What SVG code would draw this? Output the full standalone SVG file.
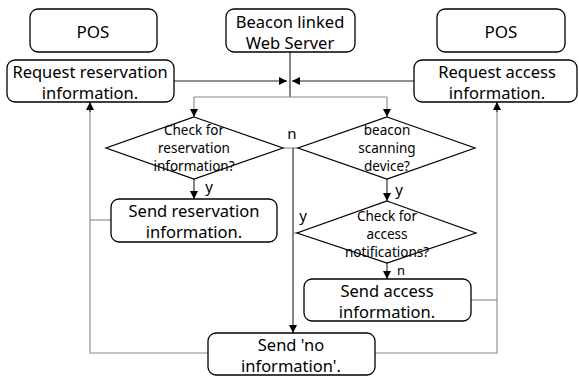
<svg xmlns="http://www.w3.org/2000/svg" width="579" height="376" viewBox="0 0 579 376">
<style>
.box{fill:#fff;stroke:#000;stroke-width:1.3}
.dia{fill:#fff;stroke:#000;stroke-width:1.2}
.t{font-family:"Noto Sans","Open Sans",sans-serif;font-size:16.5px;fill:#000;text-anchor:middle;dominant-baseline:central}
.s{font-family:"Noto Sans","Open Sans",sans-serif;font-size:13.5px;fill:#000;text-anchor:middle;dominant-baseline:central}
.lb{font-family:"Noto Sans","Open Sans",sans-serif;font-size:15px;fill:#000;text-anchor:middle;dominant-baseline:central}
.l{fill:none;stroke:#222;stroke-width:1.1}
.g{fill:none;stroke:#888;stroke-width:1.1}
</style>
<defs>
<marker id="ah" viewBox="0 0 10 10" refX="10" refY="5" markerWidth="8" markerHeight="8" markerUnits="userSpaceOnUse" orient="auto"><path d="M0,0 L10,5 L0,10 z" fill="#000"/></marker>
</defs>
<g id="connectors">
<path class="l" d="M174,81 H287" marker-end="url(#ah)"/>
<path class="l" d="M414,81 H292" marker-end="url(#ah)"/>
<path class="l" d="M290,52 V97"/>
<path class="g" d="M194,97 H387"/>
<path class="g" d="M194,97 V117" marker-end="url(#ah)"/>
<path class="g" d="M387,97 V117" marker-end="url(#ah)"/>
<path class="l" d="M194,179 V199" marker-end="url(#ah)"/>
<path class="g" d="M283,148 H298"/>
<path class="l" d="M293,148 V333" marker-end="url(#ah)"/>
<path class="l" d="M387,179 V201" marker-end="url(#ah)"/>
<path class="g" d="M293,233 H297"/>
<path class="l" d="M387,263 V279" marker-end="url(#ah)"/>
<path class="g" d="M111,220 H90"/>
<path class="g" d="M208,353 H90 V110"/>
<path class="l" d="M90,112 V102" marker-end="url(#ah)"/>
<path class="g" d="M471,300 H497"/>
<path class="g" d="M375,353 H497 V110"/>
<path class="l" d="M497,112 V102" marker-end="url(#ah)"/>
<text class="lb" x="292" y="133">n</text>
<text class="lb" x="209" y="186">y</text>
<text class="lb" x="399" y="189">y</text>
<text class="lb" x="303" y="215">y</text>
<text class="lb" x="401" y="269.5" style="font-size:13px">n</text>
</g>
<g id="pos-left"><rect class="box" x="30" y="9" width="127" height="43" rx="8"/><text class="t" x="93" y="31" style="font-size:17px">POS</text></g>
<g id="beacon-server"><rect class="box" x="226" y="9" width="129" height="43" rx="8"/><text class="t" x="290" y="21">Beacon linked</text><text class="t" x="290" y="42">Web Server</text></g>
<g id="pos-right"><rect class="box" x="437" y="9" width="128" height="43" rx="8"/><text class="t" x="501" y="31" style="font-size:17px">POS</text></g>
<g id="req-reservation"><rect class="box" x="7" y="60" width="167" height="42" rx="8"/><text class="t" x="90" y="71">Request reservation</text><text class="t" x="90" y="92">information.</text></g>
<g id="req-access"><rect class="box" x="414" y="60" width="163" height="42" rx="8"/><text class="t" x="497" y="71">Request access</text><text class="t" x="497" y="92">information.</text></g>
<g id="check-reservation"><polygon class="dia" points="194,117 283,148 194,179 106,148"/><text class="s" x="194" y="130">Check for</text><text class="s" x="194" y="148">reservation</text><text class="s" x="194" y="166">information?</text></g>
<g id="beacon-device"><polygon class="dia" points="387,117 475,148 387,179 298,148"/><text class="s" x="387" y="130">beacon</text><text class="s" x="387" y="148">scanning</text><text class="s" x="387" y="166">device?</text></g>
<g id="send-reservation"><rect class="box" x="111" y="199" width="166" height="43" rx="8"/><text class="t" x="194" y="210">Send reservation</text><text class="t" x="194" y="231">information.</text></g>
<g id="check-access"><polygon class="dia" points="387,201 476,233 387,263 297,233"/><text class="s" x="387" y="216">Check for</text><text class="s" x="387" y="234">access</text><text class="s" x="387" y="252">notifications?</text></g>
<g id="send-access"><rect class="box" x="304" y="279" width="167" height="42" rx="8"/><text class="t" x="387" y="290">Send access</text><text class="t" x="387" y="311">information.</text></g>
<g id="send-no-info"><rect class="box" x="208" y="333" width="167" height="42" rx="8"/><text class="t" x="291" y="344">Send 'no</text><text class="t" x="291" y="365">information'.</text></g>
</svg>
